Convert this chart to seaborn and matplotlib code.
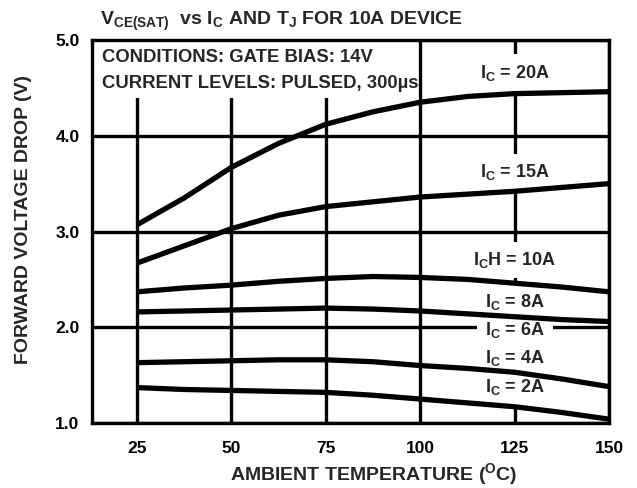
import numpy as np
import pandas as pd
import matplotlib
matplotlib.use("Agg")
import matplotlib.pyplot as plt
import seaborn as sns
from matplotlib.patches import Rectangle

# ---- data ----
temps = [25, 37.5, 50, 62.5, 75, 87.5, 100, 112.5, 125, 137.5, 150]
ic_20a = [3.07, 3.35, 3.67, 3.92, 4.12, 4.25, 4.35, 4.41, 4.44, 4.45, 4.46]
ic_15a = [2.67, 2.85, 3.03, 3.17, 3.26, 3.31, 3.36, 3.39, 3.42, 3.46, 3.50]
ic_10a = [2.37, 2.41, 2.44, 2.48, 2.51, 2.53, 2.52, 2.50, 2.46, 2.42, 2.37]
ic_8a = [2.16, 2.17, 2.18, 2.19, 2.20, 2.19, 2.17, 2.14, 2.11, 2.08, 2.06]
ic_4a = [1.63, 1.64, 1.65, 1.66, 1.66, 1.64, 1.60, 1.57, 1.53, 1.46, 1.38]
ic_2a = [1.37, 1.35, 1.34, 1.33, 1.32, 1.29, 1.25, 1.21, 1.17, 1.11, 1.04]

series = {"20A": ic_20a, "15A": ic_15a, "10A": ic_10a,
          "8A": ic_8a, "4A": ic_4a, "2A": ic_2a}

label_texts = ["I$_C$ = 20A", "I$_C$ = 15A", "I$_C$H = 10A", "I$_C$ = 8A",
               "I$_C$ = 6A", "I$_C$ = 4A", "I$_C$ = 2A"]
label_y = [4.66, 3.62, 2.70, 2.26, 1.97, 1.68, 1.38]
label_x = 125

x_ticks = [25, 50, 75, 100, 125, 150]
y_ticks = [1.0, 2.0, 3.0, 4.0, 5.0]

df = pd.DataFrame([(s, t, v) for s, vals in series.items() for t, v in zip(temps, vals)],
                  columns=["series", "temp", "vce"])

# ---- style ----
sns.set_style("white")
plt.rcParams["font.family"] = ["Liberation Sans", "DejaVu Sans"]
plt.rcParams["font.weight"] = "bold"
plt.rcParams["mathtext.fontset"] = "custom"
plt.rcParams["mathtext.rm"] = "Liberation Sans:bold"
plt.rcParams["mathtext.it"] = "Liberation Sans:bold"
plt.rcParams["mathtext.bf"] = "Liberation Sans:bold"
plt.rcParams["mathtext.sf"] = "Liberation Sans:bold"
plt.rcParams["mathtext.default"] = "bf"
plt.rcParams["lines.solid_capstyle"] = "butt"

W, H = 637, 488
fig = plt.figure(figsize=(W / 100, H / 100), dpi=100)
ax = fig.add_axes([92 / W, 1 - 423 / H, (609 - 92) / W, (423 - 40) / H])

sns.lineplot(data=df, x="temp", y="vce", hue="series", palette=["black"] * len(series),
             linewidth=3.8, legend=False, ax=ax, zorder=3, estimator=None, sort=False)

ax.set_xlim(13.1, 150)
ax.set_ylim(1.0, 5.0)
ax.set_xticks(x_ticks)
ax.set_yticks(y_ticks)
ax.set_yticklabels([f"{v:.1f}" for v in y_ticks])
ax.tick_params(axis="both", length=0, labelsize=12.5, colors="black")
ax.tick_params(axis="x", pad=13)
ax.tick_params(axis="y", pad=9)
for lab in ax.get_xticklabels() + ax.get_yticklabels():
    lab.set_fontweight("bold")

ax.set_axisbelow(True)
ax.grid(True, color="black", linewidth=2.4)
for sp in ax.spines.values():
    sp.set_color("black")
    sp.set_linewidth(2.4)

ax.set_xlabel("")
ax.set_ylabel("")

# conditions box (white area covering gridlines)
ax.add_patch(Rectangle((13.1, 4.39), 100 - 13.1 - 0.5, 5.0 - 4.39,
                       facecolor="white", edgecolor="none", zorder=1))
fig.text(102 / W, 1 - 58 / H, "CONDITIONS: GATE BIAS: 14V", fontsize=13.3,
         fontweight="bold", ha="left", va="center")
fig.text(102 / W, 1 - 84 / H, "CURRENT LEVELS: PULSED, 300\u00b5s", fontsize=13.3,
         fontweight="bold", ha="left", va="center")

for txt, yv in zip(label_texts, label_y):
    ax.text(label_x, yv, txt, fontsize=13, fontweight="bold", ha="center",
            va="center", zorder=2,
            bbox=dict(boxstyle="square,pad=0.45", facecolor="white", edgecolor="none"))

fig.text(100 / W, 1 - 25 / H, "V$_{CE(SAT)}$  vs I$_C$ AND T$_J$ FOR 10A DEVICE",
         fontsize=14, fontweight="bold", ha="left", va="baseline")
fig.text(374 / W, 1 - 474 / H, "AMBIENT TEMPERATURE ($^{O}$C)", fontsize=14,
         fontweight="bold", ha="center", va="center")
fig.text(24 / W, 1 - 220 / H, "FORWARD VOLTAGE DROP (V)", fontsize=14,
         fontweight="bold", ha="center", va="center", rotation=90)

fig.savefig("out.png", dpi=100)
